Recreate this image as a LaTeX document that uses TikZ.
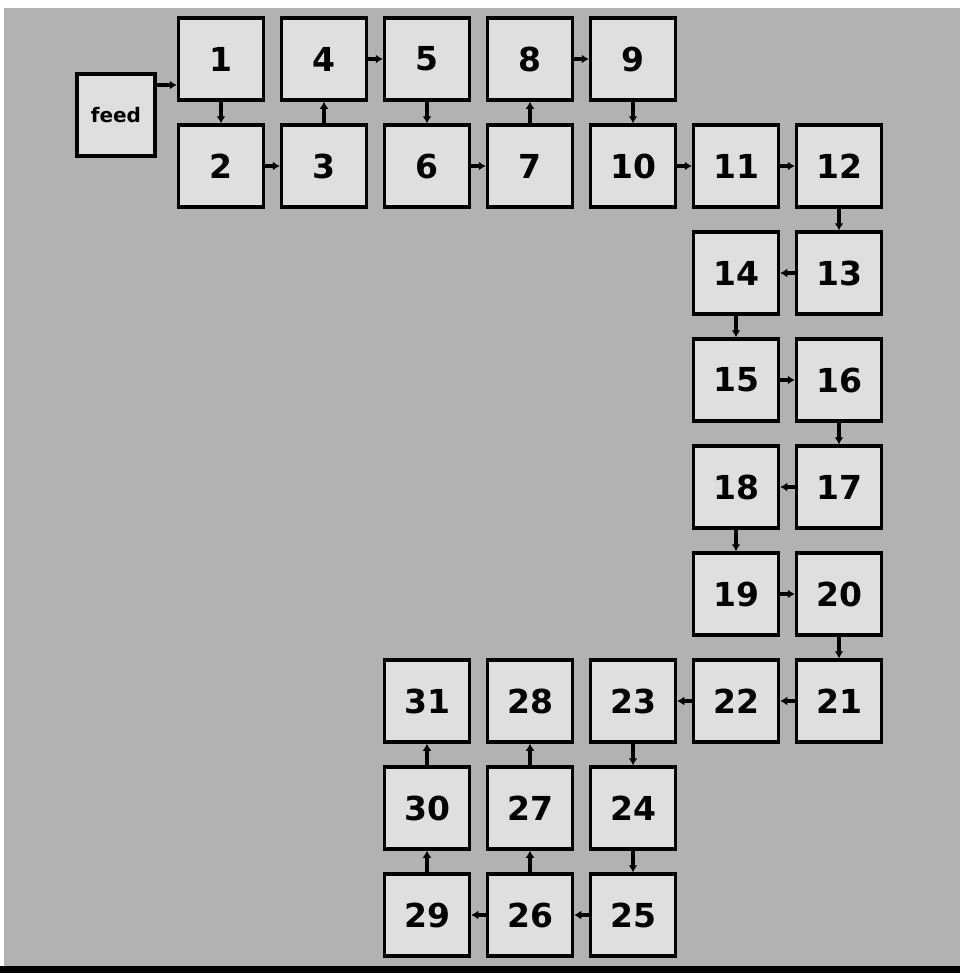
\documentclass[tikz,border=0pt]{standalone}
\usepackage{fontspec}
\setmainfont{DejaVu Sans}
\usetikzlibrary{positioning,arrows.meta}

\tikzset{
  cell/.style={rectangle, draw=black, line width=3.5pt, fill=gray!25,
    minimum width=85pt, minimum height=82pt, inner sep=0pt,
    font=\fontsize{33}{33}\selectfont\bfseries},
  link/.style={->, line width=3.5pt},
}

\begin{document}
\begin{tikzpicture}[node distance=21.5pt and 14.5pt, >={Latex[length=7pt,width=9pt]}]
				\path[use as bounding box] (0,0) rectangle (960pt,-978pt);
				\fill[gray!60] (4pt,-8pt) rectangle (960pt,-966pt);
				\fill[black] (0,-966pt) rectangle (960pt,-973pt);
				% feed and the first two rows
				\node (feed) at (116pt,-115pt) [cell, minimum width=78pt,
				font=\fontsize{20}{20}\selectfont\bfseries] {feed};
				\node (n1) at (221pt,-59pt) [cell] {1};
				\node (n2) [cell, below=of n1] {2};
				\node (n3) [cell, right=of n2] {3};
				\node (n4) [cell, above=of n3] {4};
				\node (n5) [cell, right=of n4] {5};
				\node (n6) [cell, below=of n5] {6};
				\node (n7) [cell, right=of n6] {7};
				\node (n8) [cell, above=of n7] {8};
				\node (n9) [cell, right=of n8] {9};
				\node (n10) [cell, below=of n9] {10};
				\node (n11) [cell, right=of n10] {11};
				\node (n12) [cell, right=of n11] {12};
				% right hand column
				\node (n13) [cell, below=of n12] {13};
				\node (n14) [cell, left=of n13] {14};
				\node (n15) [cell, below=of n14] {15};
				\node (n16) [cell, right=of n15] {16};
				\node (n17) [cell, below=of n16] {17};
				\node (n18) [cell, left=of n17] {18};
				\node (n19) [cell, below=of n18] {19};
				\node (n20) [cell, right=of n19] {20};
				\node (n21) [cell, below=of n20] {21};
				\node (n22) [cell, left=of n21] {22};
				\node (n23) [cell, left=of n22] {23};
				% bottom block
				\node (n24) [cell, below=of n23] {24};
				\node (n25) [cell, below=of n24] {25};
				\node (n26) [cell, left=of n25] {26};
				\node (n27) [cell, above=of n26] {27};
				\node (n28) [cell, above=of n27] {28};
				\node (n29) [cell, left=of n26] {29};
				\node (n30) [cell, above=of n29] {30};
				\node (n31) [cell, above=of n30] {31};
				\draw [link] ([yshift=30pt]feed.east) -- ([yshift=30pt]feed.east -| n1.west);
				\draw [link] (n1) -- (n2);
				\draw [link] (n2) -- (n3);
				\draw [link] (n3) -- (n4);
				\draw [link] (n4) -- (n5);
				\draw [link] (n5) -- (n6);
				\draw [link] (n6) -- (n7);
				\draw [link] (n7) -- (n8);
				\draw [link] (n8) -- (n9);
				\draw [link] (n9) -- (n10);
				\draw [link] (n10) -- (n11);
				\draw [link] (n11) -- (n12);
				\draw [link] (n12) -- (n13);
				\draw [link] (n13) -- (n14);
				\draw [link] (n14) -- (n15);
				\draw [link] (n15) -- (n16);
				\draw [link] (n16) -- (n17);
				\draw [link] (n17) -- (n18);
				\draw [link] (n18) -- (n19);
				\draw [link] (n19) -- (n20);
				\draw [link] (n20) -- (n21);
				\draw [link] (n21) -- (n22);
				\draw [link] (n22) -- (n23);
				\draw [link] (n23) -- (n24);
				\draw [link] (n24) -- (n25);
				\draw [link] (n25) -- (n26);
				\draw [link] (n26) -- (n27);
				\draw [link] (n27) -- (n28);
				\draw [link] (n26) -- (n29);
				\draw [link] (n29) -- (n30);
				\draw [link] (n30) -- (n31);
\end{tikzpicture}
\end{document}
